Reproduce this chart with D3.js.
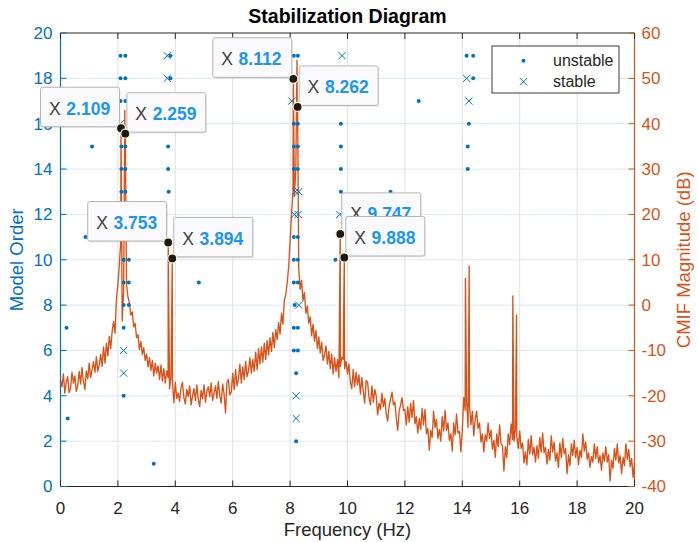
<!DOCTYPE html>
<html>
<head>
<meta charset="utf-8">
<script src="https://cdn.jsdelivr.net/npm/d3@7"></script>
<style>
  body { margin: 0; background: #fff; }
  text { font-family: "Liberation Sans", Arial, Helvetica, sans-serif; }
</style>
</head>
<body>
<div id="viz"></div>
<script>
// CMIF curve, one value every 0.05 Hz from 0 to 20 Hz (dB)
var cmifStep = 0.05;
var cmifDb = [
  -16.5, -18.0, -15.2, -19.4, -17.0, -15.8, -19.3, -18.4, -14.8, -17.2, -15.6, -19.0, -17.8, -14.6, -17.4, -13.8, -16.9, -18.6, -14.5, -16.2,
  -12.8, -16.0, -14.2, -12.5, -14.8, -11.4, -14.6, -13.2, -10.8, -13.5, -9.2, -12.8, -8.4, -11.2, -6.9, -9.6, -5.8, -3.6, -6.2, 1.5,
  4.5, 9.0, 14.0, -3.5, 3.0, 30.0, 4.5, 1.8, 0.5, -2.2, -1.5, -4.8, -4.0, -7.2, -6.5, -9.8, -8.0, -10.9, -9.4, -12.2,
  -10.8, -13.6, -11.6, -14.4, -12.2, -15.6, -12.8, -15.0, -13.4, -16.4, -13.2, -16.8, -14.0, -17.2, -14.5, -16.0, -18.5, -15.8, -17.0, -21.5,
  -17.0, -20.6, -19.4, -21.2, -18.2, -17.0, -20.4, -21.8, -18.6, -20.2, -17.8, -22.0, -20.0, -18.4, -21.0, -17.6, -20.8, -22.4, -18.8, -20.6,
  -17.6, -21.4, -19.0, -18.0, -20.2, -17.2, -21.0, -19.4, -17.8, -20.6, -16.8, -20.0, -21.6, -17.4, -19.6, -23.8, -17.0, -16.4, -19.8, -19.2,
  -15.0, -18.6, -14.2, -17.8, -16.2, -13.0, -17.2, -13.6, -16.4, -12.4, -15.8, -14.4, -11.6, -15.0, -12.0, -14.6, -10.4, -14.2, -9.6, -13.0,
  -9.2, -12.6, -8.4, -12.0, -7.8, -11.0, -7.2, -10.2, -6.0, -9.4, -5.4, -7.6, -3.8, -6.4, -1.8, -4.2, 1.0, 2.4, 5.0, 8.5,
  14.0, 20.0, 25.0, 24.0, 30.0, 40.0, 8.0, 3.5, 5.5, 1.0, 2.8, -1.8, -0.2, -4.0, -2.6, -6.8, -4.2, -8.0, -5.6, -9.6,
  -7.0, -10.6, -8.2, -12.2, -11.0, -9.0, -13.0, -10.2, -14.0, -10.8, -15.2, -11.6, -14.6, -12.0, -16.0, -13.5, -11.5, -12.0, -14.0, -12.4,
  -15.2, -13.0, -17.0, -18.4, -14.2, -18.0, -14.8, -17.6, -15.4, -19.6, -16.0, -19.0, -21.6, -16.6, -17.0, -20.4, -22.0, -17.8, -21.4, -18.6,
  -20.0, -24.2, -21.6, -23.0, -19.4, -22.4, -20.6, -24.0, -25.6, -22.2, -20.8, -19.2, -22.0, -21.4, -25.0, -27.6, -23.4, -22.0, -20.4, -23.2,
  -23.0, -26.4, -22.4, -25.8, -21.6, -24.8, -21.0, -26.2, -24.6, -28.2, -25.0, -27.4, -22.8, -26.4, -23.0, -28.4, -27.2, -32.0, -27.6, -29.2,
  -23.4, -27.0, -25.2, -29.4, -27.4, -30.0, -24.6, -27.8, -23.2, -27.6, -26.0, -29.8, -28.4, -32.2, -26.0, -28.6, -24.0, -28.2, -27.8, -32.4,
  -27.6, -20.4, -23.2, -21.2, -27.0, -22.0, -26.4, -23.4, -28.8, -25.2, -23.4, -27.2, -26.0, -30.2, -28.4, -32.4, -28.6, -30.0, -26.0, -29.4,
  -27.6, -31.8, -29.8, -33.6, -28.4, -31.2, -26.4, -30.6, -31.0, -36.6, -31.2, -33.6, -28.4, -30.8, -26.2, -29.6, -30.0, -27.4, -29.0, -31.6,
  -27.8, -31.6, -30.4, -34.8, -32.4, -35.2, -29.6, -32.8, -28.8, -33.0, -31.4, -34.6, -31.0, -33.8, -29.2, -32.4, -28.2, -32.6, -31.4, -35.0,
  -31.8, -34.2, -28.8, -32.4, -30.2, -34.4, -32.6, -35.8, -30.4, -33.6, -29.4, -32.8, -31.6, -37.2, -33.0, -35.4, -30.6, -33.2, -29.8, -33.6,
  -31.4, -35.2, -32.0, -33.6, -28.4, -32.2, -30.2, -34.0, -32.6, -35.8, -33.4, -34.6, -30.6, -33.8, -31.2, -34.8, -33.2, -36.4, -32.6, -34.4,
  -31.2, -34.6, -33.0, -38.8, -34.2, -36.0, -31.6, -34.2, -30.6, -34.8, -33.2, -37.2, -33.6, -35.4, -30.6, -34.0, -31.8, -35.6, -33.8, -38.0,
  -34.8
];

// resonance spikes in the CMIF (Hz, dB)
var peakFreq = [2.109, 2.24, 2.259, 3.753, 3.894, 8.112, 8.24, 8.262, 9.747, 9.888, 14.11, 14.24, 15.76, 15.89];
var peakDb   = [39.0, 43.0, 37.8, 13.8, 10.3, 49.9, 54.0, 43.7, 15.7, 10.5, 5.9, 8.6, 2.0, -2.2];

// stabilization poles (Hz, model order)
var unstableFreq  = [2.09, 2.26, 3.83, 8.13, 8.27, 14.15, 14.38,
                     2.09, 2.26, 3.83, 8.13, 14.38,
                     2.09, 2.26, 12.48,
                     8.13, 8.27, 9.77, 14.23,
                     1.10, 2.12, 2.26, 3.75, 8.13, 8.27, 9.77, 14.19,
                     2.12, 2.26, 3.75, 8.13, 8.27, 9.77, 14.19,
                     2.12, 2.26, 3.77, 9.77, 11.50,
                     2.15, 2.30,
                     0.87, 2.18, 8.13, 8.27,
                     2.20, 2.38, 8.13, 8.27, 9.58,
                     2.20, 2.38, 4.82, 8.13, 8.27,
                     2.20, 2.38, 8.16,
                     0.21, 2.20, 8.13, 8.27,
                     8.13, 8.27,
                     8.21,
                     2.20,
                     0.25,
                     8.21,
                     3.25];
var unstableOrder = [19, 19, 19, 19, 19, 19, 19,
                     18, 18, 18, 18, 18,
                     17, 17, 17,
                     16, 16, 16, 16,
                     15, 15, 15, 15, 15, 15, 15, 15,
                     14, 14, 14, 14, 14, 14, 14,
                     13, 13, 13, 13, 13,
                     12, 12,
                     11, 11, 11, 11,
                     10, 10, 10, 10, 10,
                     9, 9, 9, 9, 9,
                     8, 8, 8,
                     7, 7, 7, 7,
                     6, 6,
                     5,
                     4,
                     3,
                     2,
                     1];
var stableFreq  = [3.72, 9.81, 3.72, 14.15, 8.06, 14.23, 2.09, 8.19, 8.30, 8.15, 8.28, 9.73, 8.30, 2.20, 2.20, 8.21, 8.21];
var stableOrder = [19, 19, 18, 18, 17, 17, 16, 13, 13, 12, 12, 12, 8, 6, 5, 4, 3];

// data tips
var tipFreq = [2.109, 2.259, 3.753, 3.894, 8.112, 8.262, 9.747, 9.888];
var tipDb   = [39.0, 37.8, 13.8, 10.3, 49.9, 43.7, 15.7, 10.5];
var tipSide = ['left', 'right', 'left', 'right', 'left', 'right', 'right', 'right'];

var xTicks = [0, 2, 4, 6, 8, 10, 12, 14, 16, 18, 20];
var leftTicks = [0, 2, 4, 6, 8, 10, 12, 14, 16, 18, 20];
var rightTicks = [-40, -30, -20, -10, 0, 10, 20, 30, 40, 50, 60];

var blue = '#0072BD';
var orange = '#D95319';
var dark = '#262626';

var width = 698, height = 542;
var pLeft = 60.5, pRight = 634.5, pTop = 33, pBottom = 486.5;

var svg = d3.select('#viz').append('svg')
  .attr('width', width)
  .attr('height', height);

var x = d3.scaleLinear().domain([0, 20]).range([pLeft, pRight]);
var yL = d3.scaleLinear().domain([0, 20]).range([pBottom, pTop]);
var yR = d3.scaleLinear().domain([-40, 60]).range([pBottom, pTop]);

// grid
svg.append('g').selectAll('line')
  .data(xTicks.slice(1, -1))
  .enter().append('line')
  .attr('x1', d => x(d)).attr('x2', d => x(d))
  .attr('y1', pTop).attr('y2', pBottom)
  .attr('stroke', '#e0e0e0').attr('stroke-width', 1);
svg.append('g').selectAll('line')
  .data(leftTicks.slice(1, -1))
  .enter().append('line')
  .attr('x1', pLeft).attr('x2', pRight)
  .attr('y1', d => yL(d)).attr('y2', d => yL(d))
  .attr('stroke', '#dbe8f3').attr('stroke-width', 1);

// CMIF curve
var cmifPts = cmifDb.map(function (d, i) { return {f: i * cmifStep, db: d}; });
peakFreq.forEach(function (f, i) { cmifPts.push({f: f, db: peakDb[i]}); });
cmifPts.sort(function (a, b) { return a.f - b.f; });

var line = d3.line()
  .x(d => x(d.f))
  .y(d => yR(d.db));

svg.append('path')
  .datum(cmifPts)
  .attr('d', line)
  .attr('fill', 'none')
  .attr('stroke', orange)
  .attr('stroke-width', 1.35)
  .attr('stroke-linejoin', 'round');

// unstable poles
svg.append('g').selectAll('circle')
  .data(unstableFreq)
  .enter().append('circle')
  .attr('cx', (d, i) => x(d))
  .attr('cy', (d, i) => yL(unstableOrder[i]))
  .attr('r', 2)
  .attr('fill', blue);

// stable poles
function cross(cx, cy, s) {
  return 'M' + (cx - s) + ',' + (cy - s) + 'L' + (cx + s) + ',' + (cy + s) +
         'M' + (cx - s) + ',' + (cy + s) + 'L' + (cx + s) + ',' + (cy - s);
}
svg.append('g').selectAll('path')
  .data(stableFreq)
  .enter().append('path')
  .attr('d', (d, i) => cross(x(d), yL(stableOrder[i]), 3.6))
  .attr('stroke', blue)
  .attr('stroke-width', 1)
  .attr('fill', 'none');

// axes box
svg.append('line').attr('x1', pLeft).attr('x2', pRight).attr('y1', pTop).attr('y2', pTop)
  .attr('stroke', dark).attr('stroke-width', 1);
svg.append('line').attr('x1', pLeft).attr('x2', pRight).attr('y1', pBottom).attr('y2', pBottom)
  .attr('stroke', dark).attr('stroke-width', 1);
svg.append('line').attr('x1', pLeft).attr('x2', pLeft).attr('y1', pTop).attr('y2', pBottom)
  .attr('stroke', blue).attr('stroke-width', 1.2);
svg.append('line').attr('x1', pRight).attr('x2', pRight).attr('y1', pTop).attr('y2', pBottom)
  .attr('stroke', orange).attr('stroke-width', 1.2);

var tickLen = 6;
var xt = svg.append('g');
xTicks.forEach(function (t) {
  xt.append('line').attr('x1', x(t)).attr('x2', x(t)).attr('y1', pBottom).attr('y2', pBottom - tickLen)
    .attr('stroke', dark);
  xt.append('line').attr('x1', x(t)).attr('x2', x(t)).attr('y1', pTop).attr('y2', pTop + tickLen)
    .attr('stroke', dark);
  xt.append('text').attr('x', x(t)).attr('y', pBottom + 27)
    .attr('text-anchor', 'middle').attr('font-size', 17).attr('fill', dark)
    .text(t);
});

var lt = svg.append('g');
leftTicks.forEach(function (t) {
  lt.append('line').attr('x1', pLeft).attr('x2', pLeft + tickLen).attr('y1', yL(t)).attr('y2', yL(t))
    .attr('stroke', blue);
  lt.append('text').attr('x', pLeft - 8).attr('y', yL(t)).attr('dy', '0.35em')
    .attr('text-anchor', 'end').attr('font-size', 17).attr('fill', blue)
    .text(t);
});

var rt = svg.append('g');
rightTicks.forEach(function (t) {
  rt.append('line').attr('x1', pRight).attr('x2', pRight - tickLen).attr('y1', yR(t)).attr('y2', yR(t))
    .attr('stroke', orange);
  rt.append('text').attr('x', pRight + 7).attr('y', yR(t)).attr('dy', '0.35em')
    .attr('text-anchor', 'start').attr('font-size', 17).attr('fill', orange)
    .text(t);
});

// labels
svg.append('text').attr('x', (pLeft + pRight) / 2).attr('y', 23)
  .attr('text-anchor', 'middle').attr('font-size', 19.5).attr('font-weight', 'bold').attr('fill', '#000')
  .text('Stabilization Diagram');
svg.append('text').attr('x', (pLeft + pRight) / 2).attr('y', 536)
  .attr('text-anchor', 'middle').attr('font-size', 18.5).attr('fill', dark)
  .text('Frequency (Hz)');
svg.append('text')
  .attr('transform', 'translate(17,' + (pTop + pBottom) / 2 + ') rotate(-90)')
  .attr('dy', '0.35em')
  .attr('text-anchor', 'middle').attr('font-size', 18.5).attr('fill', blue)
  .text('Model Order');
svg.append('text')
  .attr('transform', 'translate(684,' + (pTop + pBottom) / 2 + ') rotate(-90)')
  .attr('dy', '0.35em')
  .attr('text-anchor', 'middle').attr('font-size', 18.5).attr('fill', orange)
  .text('CMIF Magnitude (dB)');

// legend
var legend = svg.append('g').attr('transform', 'translate(492,46)');
legend.append('rect').attr('width', 127).attr('height', 47)
  .attr('fill', '#fff').attr('stroke', dark).attr('stroke-width', 0.9);
legend.append('circle').attr('cx', 31.5).attr('cy', 14.7).attr('r', 2).attr('fill', blue);
legend.append('path').attr('d', cross(31.5, 35.7, 3.6)).attr('stroke', blue).attr('fill', 'none');
legend.append('text').attr('x', 61).attr('y', 14.7).attr('dy', '0.35em')
  .attr('font-size', 16).attr('fill', dark).text('unstable');
legend.append('text').attr('x', 61).attr('y', 35.7).attr('dy', '0.35em')
  .attr('font-size', 16).attr('fill', dark).text('stable');

// data tips
var boxW = 79, boxH = 39.5;
var tips = svg.append('g');
tipFreq.forEach(function (f, i) {
  var mx = x(f), my = yR(tipDb[i]);
  var bx = tipSide[i] === 'left' ? mx - 1.5 - boxW : mx + 1.5;
  var by = my - 1.5 - boxH;
  var g = tips.append('g');
  g.append('rect').attr('x', bx + 1).attr('y', by + 1.5).attr('width', boxW).attr('height', boxH)
    .attr('rx', 2).attr('fill', '#000').attr('opacity', 0.08);
  g.append('rect').attr('x', bx).attr('y', by).attr('width', boxW).attr('height', boxH)
    .attr('rx', 2).attr('fill', '#fafafc').attr('stroke', '#b4b4b4').attr('stroke-width', 1);
  g.append('text').attr('x', bx + 8.5).attr('y', by + 27.5)
    .attr('font-size', 17.5).attr('fill', '#404040').text('X');
  g.append('text').attr('x', bx + 25.8).attr('y', by + 27.5)
    .attr('font-size', 17.5).attr('font-weight', 'bold').attr('fill', '#1b96f0')
    .text(f.toFixed(3));
  g.append('circle').attr('cx', mx).attr('cy', my).attr('r', 4.5)
    .attr('fill', '#1a1a1a').attr('stroke', '#fff6c8').attr('stroke-width', 1.2);
});
</script>
</body>
</html>
